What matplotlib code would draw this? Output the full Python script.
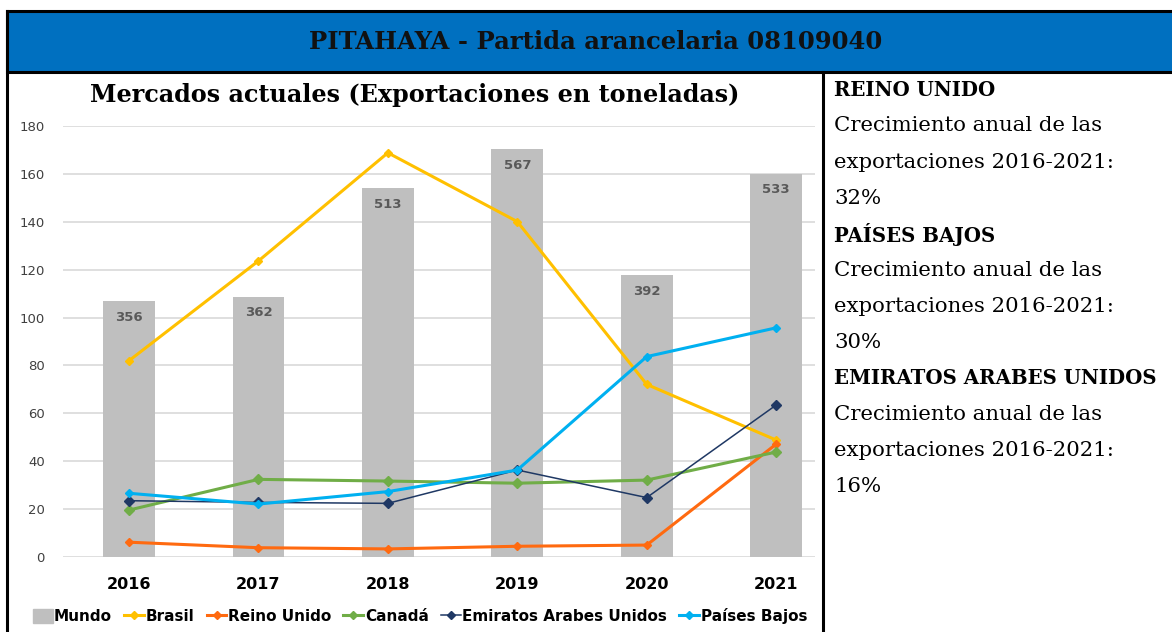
import matplotlib.pyplot as plt
import numpy as np
from matplotlib.lines import Line2D
from matplotlib.patches import Rectangle

# Exportaciones de pitahaya (toneladas)
years = ["2016", "2017", "2018", "2019", "2020", "2021"]
mundo = [356, 362, 513, 567, 392, 533]
brasil = [82.0, 123.6, 168.7, 140.0, 72.1, 48.9]
reino_unido = [6.3, 4.0, 3.5, 4.6, 5.1, 47.2]
canada = [19.7, 32.5, 31.8, 30.9, 32.2, 43.9]
emiratos = [23.6, 22.9, 22.5, 36.4, 24.9, 63.5]
paises_bajos = [26.7, 22.2, 27.4, 36.4, 83.7, 95.7]
yticks = [0, 20, 40, 60, 80, 100, 120, 140, 160, 180]

side_lines = [
    ("REINO UNIDO", True),
    ("Crecimiento anual de las", False),
    ("exportaciones 2016-2021:", False),
    ("32%", False),
    ("PAÍSES BAJOS", True),
    ("Crecimiento anual de las", False),
    ("exportaciones 2016-2021:", False),
    ("30%", False),
    ("EMIRATOS ARABES UNIDOS", True),
    ("Crecimiento anual de las", False),
    ("exportaciones 2016-2021:", False),
    ("16%", False),
]

# Mundo bars share the axis at 0.3x (as in the source chart)
MUNDO_SCALE = 0.3

W, H = 1172, 632
fig = plt.figure(figsize=(W / 100, H / 100), dpi=100)


def fx(px):
    return px / W


def fy(py):
    return 1 - py / H


# header band and table borders
fig.patches.append(Rectangle((fx(7), fy(72)), fx(1190) - fx(7), fy(11) - fy(72),
                             transform=fig.transFigure, facecolor="#0070C0",
                             edgecolor="black", linewidth=2.2, zorder=0))
fig.lines.append(Line2D([fx(7), fx(7)], [fy(11), fy(640)], color="black", lw=2.2,
                        transform=fig.transFigure))
fig.lines.append(Line2D([fx(823), fx(823)], [fy(72), fy(640)], color="black", lw=2.2,
                        transform=fig.transFigure))
fig.text(fx(596), fy(42), "PITAHAYA - Partida arancelaria 08109040", ha="center",
         va="center", fontsize=17.5, fontweight="bold", family="DejaVu Serif",
         color="#111111")

ax = fig.add_axes([fx(63), fy(557.3), fx(815) - fx(63), fy(125.7) - fy(557.3)])
x = np.arange(len(years))

bar_h = np.array(mundo) * MUNDO_SCALE
bars = ax.bar(x, bar_h, width=0.40, color="#BFBFBF", zorder=2, label="Mundo")
for xi, hi, v in zip(x, bar_h, mundo):
    ax.text(xi, hi - 4, str(v), ha="center", va="top", fontsize=9.5,
            fontweight="bold", color="#595959", zorder=3)

series = [
    ("Brasil", brasil, "#FFC000", 2.2, 4.5),
    ("Reino Unido", reino_unido, "#FF6A10", 2.2, 4.5),
    ("Canadá", canada, "#70AD47", 2.2, 5.5),
    ("Emiratos Arabes Unidos", emiratos, "#1F3864", 1.1, 5.5),
    ("Países Bajos", paises_bajos, "#00B0F0", 2.2, 4.5),
]
handles = [Rectangle((0, 0), 1, 1, color="#BFBFBF")]
labels = ["Mundo"]
for name, vals, col, lw, ms in series:
    (ln,) = ax.plot(x, vals, color=col, lw=lw, marker="D", markersize=ms, label=name, zorder=4)
    handles.append(ln)
    labels.append(name)

ax.set_ylim(0, 180)
ax.set_xlim(-0.51, 5.30)
ax.set_yticks(yticks)
ax.grid(axis="y", color="#D9D9D9", lw=1.2, zorder=0)
ax.set_axisbelow(True)
for s in ax.spines.values():
    s.set_visible(False)
ax.tick_params(axis="y", length=0, pad=13, labelsize=9.5, labelcolor="#404040")
ax.tick_params(axis="x", length=0, pad=14, labelsize=11.5)
ax.set_xticks(x)
ax.set_xticklabels(years, fontweight="bold")

leg_y = (fy(616) - fy(557.3)) / (fy(125.7) - fy(557.3))
ax.legend(handles, labels, loc="center", bbox_to_anchor=((fx(420) - fx(63)) / (fx(815) - fx(63)), leg_y),
          ncol=6, frameon=False, prop={"weight": "bold", "size": 11},
          handlelength=1.3, handleheight=1.0, handletextpad=0.1, columnspacing=0.8,
          markerscale=0.8)

fig.text(fx(415), fy(95), "Mercados actuales (Exportaciones en toneladas)", ha="center",
         va="center", fontsize=17.2, fontweight="bold", family="DejaVu Serif")

for i, (txt, bold) in enumerate(side_lines):
    fig.text(fx(834), fy(90 + i * 36), txt, ha="left", va="center",
             fontsize=14.2 if bold else 15.3,
             fontweight="bold" if bold else "normal", family="DejaVu Serif")

fig.savefig("out.png", dpi=100)
